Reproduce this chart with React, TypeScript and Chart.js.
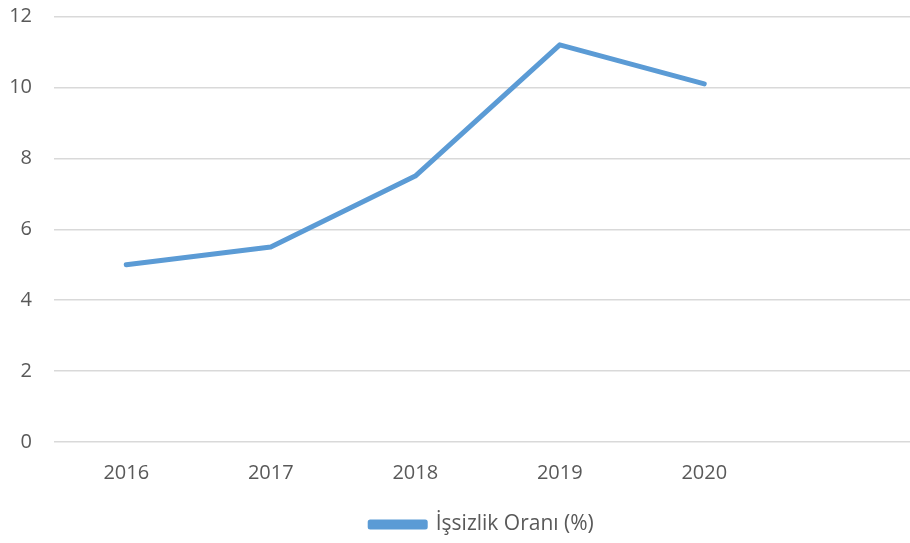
import React, { useEffect, useRef } from "react";
import { Chart, registerables } from "chart.js";

Chart.register(...registerables);

const years = [2016, 2017, 2018, 2019, 2020];
const unemploymentRate = [5.0, 5.5, 7.5, 11.2, 10.1];
const seriesLabel = "İşsizlik Oranı (%)";
const yTicks = [0, 2, 4, 6, 8, 10, 12];

const BLUE = "#5B9BD5";
const TEXT = "#595959";
const FONT = "'Open Sans', sans-serif";

export default function App() {
  const ref = useRef<HTMLCanvasElement | null>(null);

  useEffect(() => {
    if (!ref.current) return;
    const chart = new Chart(ref.current, {
      type: "line",
      data: {
        datasets: [
          {
            label: seriesLabel,
            data: years.map((y, i) => ({ x: y, y: unemploymentRate[i] })),
            borderColor: BLUE,
            backgroundColor: BLUE,
            borderWidth: 5,
            pointRadius: 0,
            pointHoverRadius: 0,
            tension: 0,
            borderCapStyle: "round",
            borderJoinStyle: "round",
          },
        ],
      },
      options: {
        animation: false,
        responsive: false,
        layout: { padding: { left: 0, right: 0, top: 16.5, bottom: -2 } },
        plugins: {
          tooltip: { enabled: false },
          legend: {
            position: "bottom",
            fullSize: false,
            labels: {
              boxWidth: 55,
              boxHeight: 5,
              color: TEXT,
              font: { family: FONT, size: 21 },
              padding: 10,
            },
          },
        },
        scales: {
          x: {
            type: "linear",
            min: years[0] - 0.5,
            max: years[0] - 0.5 + (910 - 54) / 144.5,
            afterBuildTicks: (s: any) => {
              s.ticks = years.map((v) => ({ value: v }));
            },
            grid: { display: false, drawTicks: false },
            border: { display: false },
            ticks: {
              color: TEXT,
              font: { family: FONT, size: 20 },
              padding: 19,
              callback: (v: any) => String(v),
              maxRotation: 0,
              autoSkip: false,
            },
          },
          y: {
            min: 0,
            max: 12,
            afterBuildTicks: (s: any) => {
              s.ticks = yTicks.map((v) => ({ value: v }));
            },
            afterFit: (s: any) => {
              s.width = 54;
              s.paddingTop = 0;
              s.paddingBottom = 0;
            },
            grid: { color: "#D9D9D9", lineWidth: 1.5, drawTicks: false },
            border: { display: false },
            ticks: {
              color: TEXT,
              font: { family: FONT, size: 20 },
              padding: 22,
            },
          },
        },
      },
    });
    return () => chart.destroy();
  }, []);

  return (
    <div style={{ position: "absolute", left: 0, top: 0, width: 910, height: 543, background: "#fff" }}>
      <canvas ref={ref} width={910} height={543} style={{ display: "block" }} />
    </div>
  );
}
